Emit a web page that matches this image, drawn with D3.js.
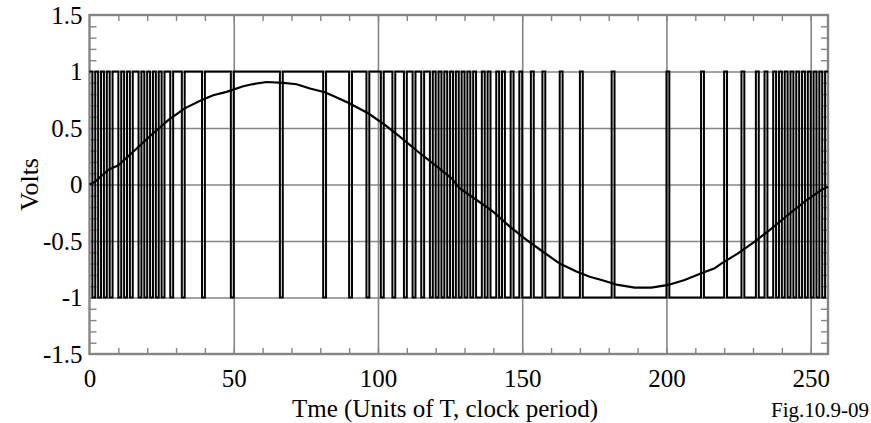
<!DOCTYPE html>
<html>
<head>
<meta charset="utf-8">
<script src="https://cdn.jsdelivr.net/npm/d3@7"></script>
<style>
  body{margin:0;background:#fff;}
  svg text{font-family:"Liberation Serif","Times New Roman",serif;fill:#000;}
</style>
</head>
<body>
<div id="chart"></div>
<script>
// one-bit output, one char per clock period (1 = +1 V, 0 = -1 V), 16 per row
const bitRows = [
  "1010101011010101", "1010101010110111", "0111111011111111", "1011111111111111",
  "1101111111111111", "1011111111011111", "0111101110111011", "0110110101010101",
  "0101010010100101", "0010010001000100", "0001000000100000", "0000010000000000",
  "0000000010000000", "0000100000001000", "0010000100100101", "0101010101010101"
];

// filtered (averaged) output
const filteredT = [0, 2, 6.5, 10, 15.8, 21.5, 27.3, 33, 38.9, 42.9, 47.5, 53.3, 56.8, 61.4, 67.2, 71.8,
  76.4, 81.6, 85.1, 89.7, 96.6, 102.4, 108.2, 113.9, 119.7, 125.5, 128.4, 134.2, 139.9, 145.7, 151.5,
  157.2, 163, 168.8, 173.4, 177.5, 183.2, 189, 194.8, 200.6, 206.3, 212.1, 216.7, 219, 224.8, 230.6,
  236.4, 242.1, 247.9, 253.7, 256];
const filteredV = [0, 0.025, 0.13, 0.17, 0.305, 0.44, 0.57, 0.674, 0.748, 0.79, 0.82, 0.87, 0.889, 0.907, 0.9, 0.887,
  0.85, 0.816, 0.777, 0.724, 0.63, 0.527, 0.41, 0.29, 0.173, 0.055, -0.034, -0.137, -0.24, -0.373, -0.49,
  -0.595, -0.7, -0.77, -0.816, -0.845, -0.889, -0.913, -0.913, -0.889, -0.845, -0.786, -0.742, -0.7, -0.61, -0.506,
  -0.39, -0.27, -0.152, -0.049, -0.02];

const xTicks = [0, 50, 100, 150, 200, 250];
const xGrid = [50, 100, 150, 200, 250];
const yTicks = [-1.5, -1, -0.5, 0, 0.5, 1, 1.5];
const yTickLabels = ["-1.5", "-1", "-0.5", "0", "0.5", "1", "1.5"];
const yGrid = [-1, -0.5, 0, 0.5, 1];

const W = 871, H = 423;
const pLeft = 89.5, pRight = 828, pTop = 15, pBottom = 354;

const x = d3.scaleLinear().domain([0, 256]).range([pLeft, pRight]);
const y = d3.scaleLinear().domain([-1.5, 1.5]).range([pBottom, pTop]);

const minorX = d3.range(10, 256, 10);
const minorY = d3.range(-14, 15).map(d => d / 10);

const svg = d3.select('#chart').append('svg')
  .attr('width', W).attr('height', H);

const grey = '#858585';

function styleTicks(g, w){
  g.select('.domain').remove();
  g.selectAll('line').attr('stroke', grey).attr('stroke-width', w);
}

// grid
svg.append('g').attr('transform', `translate(0,${pBottom})`)
  .call(d3.axisBottom(x).tickValues(xGrid).tickSize(-(pBottom - pTop)).tickFormat(''))
  .call(g => styleTicks(g, 1.6));
svg.append('g').attr('transform', `translate(${pLeft},0)`)
  .call(d3.axisLeft(y).tickValues(yGrid).tickSize(-(pRight - pLeft)).tickFormat(''))
  .call(g => styleTicks(g, 1.6));

// minor ticks pointing inward on all four sides
svg.append('g').attr('transform', `translate(0,${pBottom})`)
  .call(d3.axisBottom(x).tickValues(minorX).tickSize(-6).tickFormat(''))
  .call(g => styleTicks(g, 1.4));
svg.append('g').attr('transform', `translate(0,${pTop})`)
  .call(d3.axisTop(x).tickValues(minorX).tickSize(-6).tickFormat(''))
  .call(g => styleTicks(g, 1.4));
svg.append('g').attr('transform', `translate(${pLeft},0)`)
  .call(d3.axisLeft(y).tickValues(minorY).tickSize(-7).tickFormat(''))
  .call(g => styleTicks(g, 1.4));
svg.append('g').attr('transform', `translate(${pRight},0)`)
  .call(d3.axisRight(y).tickValues(minorY).tickSize(-7).tickFormat(''))
  .call(g => styleTicks(g, 1.4));

// frame
svg.append('rect')
  .attr('x', pLeft).attr('y', pTop)
  .attr('width', pRight - pLeft).attr('height', pBottom - pTop)
  .attr('fill', 'none').attr('stroke', grey).attr('stroke-width', 2.4);

// tick labels
const xl = svg.append('g').attr('transform', `translate(0,${pBottom})`)
  .call(d3.axisBottom(x).tickValues(xTicks).tickSize(0).tickPadding(15).tickFormat(d => d));
xl.select('.domain').remove();
xl.selectAll('text').style('font-size', '25px').attr('font-family', null);

const yl = svg.append('g').attr('transform', `translate(${pLeft},0)`)
  .call(d3.axisLeft(y).tickValues(yTicks).tickSize(0).tickPadding(7)
    .tickFormat((d, i) => yTickLabels[i]));
yl.select('.domain').remove();
yl.selectAll('text').style('font-size', '25px').attr('font-family', null);

// bitstream
const bits = bitRows.join('').split('').map(c => c === '1' ? 1 : -1);
const bitData = bits.map((v, i) => [i, v]);
bitData.push([bits.length, bits[bits.length - 1]]);

svg.append('path')
  .datum(bitData)
  .attr('fill', 'none')
  .attr('stroke', '#000')
  .attr('stroke-width', 2)
  .attr('d', d3.line().x(d => x(d[0])).y(d => y(d[1])).curve(d3.curveStepAfter));

// filtered curve
const curveData = filteredT.map((t, i) => [t, filteredV[i]]);
svg.append('path')
  .datum(curveData)
  .attr('fill', 'none')
  .attr('stroke', '#000')
  .attr('stroke-width', 2.2)
  .attr('d', d3.line().x(d => x(d[0])).y(d => y(d[1])));

// titles
svg.append('text')
  .attr('transform', `translate(38,${y(0)}) rotate(-90)`)
  .attr('text-anchor', 'middle')
  .style('font-size', '26px')
  .text('Volts');

svg.append('text')
  .attr('x', 445).attr('y', 417)
  .attr('text-anchor', 'middle')
  .style('font-size', '25px')
  .text('Tme (Units of T, clock period)');

svg.append('text')
  .attr('x', 869).attr('y', 417)
  .attr('text-anchor', 'end')
  .style('font-size', '21px')
  .text('Fig.10.9-09');
</script>
</body>
</html>
